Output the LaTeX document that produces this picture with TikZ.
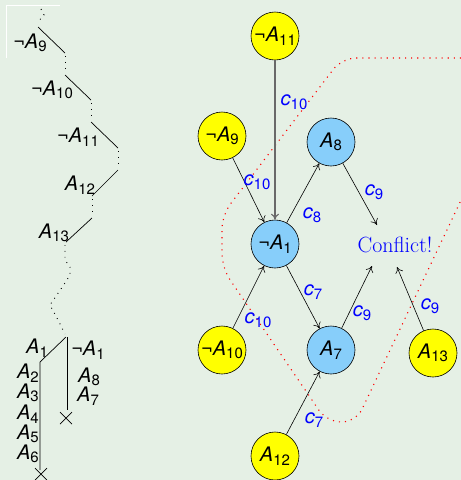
\documentclass[tikz,border=0pt]{standalone}
\usepackage{fontspec}
\newfontfamily\hv{TeX Gyre Heros}
\usetikzlibrary{arrows.meta}
\definecolor{bg}{RGB}{229,240,229}
\definecolor{ylw}{RGB}{255,255,0}
\definecolor{sky}{RGB}{135,206,250}
\definecolor{edgegray}{RGB}{105,105,105}
\newcommand\Lit[2]{{\fontsize{20}{24}\hv #1\itshape A}\raisebox{-3.5pt}{\fontsize{15}{15}\hv #2}}
\newcommand\Cl[1]{{\fontsize{20}{24}\hv\itshape c}\raisebox{-3.5pt}{\fontsize{15}{15}\hv #1}}
\begin{document}
\begin{tikzpicture}[x=1pt,y=-1pt,
  posnode/.style={circle,draw=black,line width=0.6pt,fill=sky,minimum size=48pt,inner sep=0pt},
  negnode/.style={circle,draw=black,line width=0.6pt,fill=ylw,minimum size=48pt,inner sep=0pt},
  arr/.style={-{To[length=6pt,width=8pt]},line width=0.6pt,black},
  clab/.style={text=blue,inner sep=0pt},
  lit/.style={inner sep=0pt},
  tree/.style={line width=0.7pt,black},
  dots/.style={line width=0.9pt,black,dash pattern=on 0.9pt off 5pt},
  reddots/.style={line width=1.1pt,red,dash pattern=on 1.1pt off 5pt}]
\fill[bg] (0,0) rectangle (461,480);
\useasboundingbox (0,0) rectangle (461,480);
\draw[white,line width=0.6pt] (6,58) -- (6,5) -- (60,5);

% ---------- left tree ----------
\draw[dots] (41,9) -- (44,15) -- (37,23);
\draw[tree] (38,27) -- (65,53);
\draw[dots] (65,56) -- (65,73);
\draw[tree] (65,75) -- (91,100);
\draw[dots] (91,103) -- (91,120);
\draw[tree] (91,122) -- (118,148);
\draw[dots] (118,151) -- (118,168);
\draw[tree] (118,170) -- (92,196);
\draw[dots] (92,199) -- (92,216);
\draw[tree] (92,218) -- (66,242);
\draw[dots] (65,245) -- (65,260) -- (70,267) -- (70,275) -- (65,283) -- (50,305) -- (58,320) -- (65,334);
\draw[tree] (66,337) -- (40,362) -- (40,470);
\draw[tree] (67,337) -- (67,410);
\draw[tree] (60,412) -- (72,424) (60,424) -- (72,412);
\draw[tree] (35,468) -- (47,480) (35,480) -- (47,468);

\node[lit] (t9) at (30,43) {\Lit{¬}{9}};
\node[lit] (t10) at (52,90) {\Lit{¬}{10}};
\node[lit] (t11) at (78,137) {\Lit{¬}{11}};
\node[lit] (t12) at (80,185) {\Lit{}{12}};
\node[lit] (t13) at (54,233) {\Lit{}{13}};
\node[lit] (t1) at (37,348) {\Lit{}{1}};
\node[lit] (tn1) at (88,350) {\Lit{¬}{1}};
\node[lit] (t2) at (28,373) {\Lit{}{2}};
\node[lit] (t3) at (28,393) {\Lit{}{3}};
\node[lit] (t4) at (28,414) {\Lit{}{4}};
\node[lit] (t5) at (28,434) {\Lit{}{5}};
\node[lit] (t6) at (28,454) {\Lit{}{6}};
\node[lit] (t8) at (89,377) {\Lit{}{8}};
\node[lit] (t7) at (88,396) {\Lit{}{7}};

% ---------- right graph ----------
\draw[reddots,rounded corners=14pt] (461,58) -- (342,58) -- (222,215) -- (222,268) -- (327,422) -- (356,422) -- (463,196);

\node[negnode] (n11) at (275,36) {\Lit{¬}{11}};
\node[negnode] (n9) at (222,136) {\Lit{¬}{9}};
\node[posnode] (a8) at (331,142) {\Lit{}{8}};
\node[posnode] (n1) at (275,244) {\Lit{¬}{1}};
\node[negnode] (n10) at (222,350) {\Lit{¬}{10}};
\node[posnode] (a7) at (331,350) {\Lit{}{7}};
\node[negnode] (a13) at (433,353) {\Lit{}{13}};
\node[negnode] (a12) at (275,456) {\Lit{}{12}};
\node[text=blue,inner sep=0pt] (cf) at (395,245) {\fontsize{22}{26}\selectfont Conflict!};
\coordinate (cf1) at (377,225);
\coordinate (cf2) at (372,266);
\coordinate (cf3) at (397,267);

\draw[arr,edgegray,line width=1.1pt] (n11) -- (n1);
\draw[arr] (n9) -- (n1);
\draw[arr] (n10) -- (n1);
\draw[arr] (n1) -- (a8);
\draw[arr] (n1) -- (a7);
\draw[arr] (a12) -- (a7);
\draw[arr] (a8) -- (cf1);
\draw[arr] (a7) -- (cf2);
\draw[arr] (a13) -- (cf3);

\node[clab] (l1) at (294,102) {\Cl{10}};
\node[clab] (l2) at (257,182) {\Cl{10}};
\node[clab] (l3) at (312,215) {\Cl{8}};
\node[clab] (l4) at (374,192) {\Cl{9}};
\node[clab] (l5) at (313,292) {\Cl{7}};
\node[clab] (l6) at (258,320) {\Cl{10}};
\node[clab] (l7) at (362,313) {\Cl{9}};
\node[clab] (l8) at (430,306) {\Cl{9}};
\node[clab] (l9) at (314,420) {\Cl{7}};
\end{tikzpicture}
\end{document}
